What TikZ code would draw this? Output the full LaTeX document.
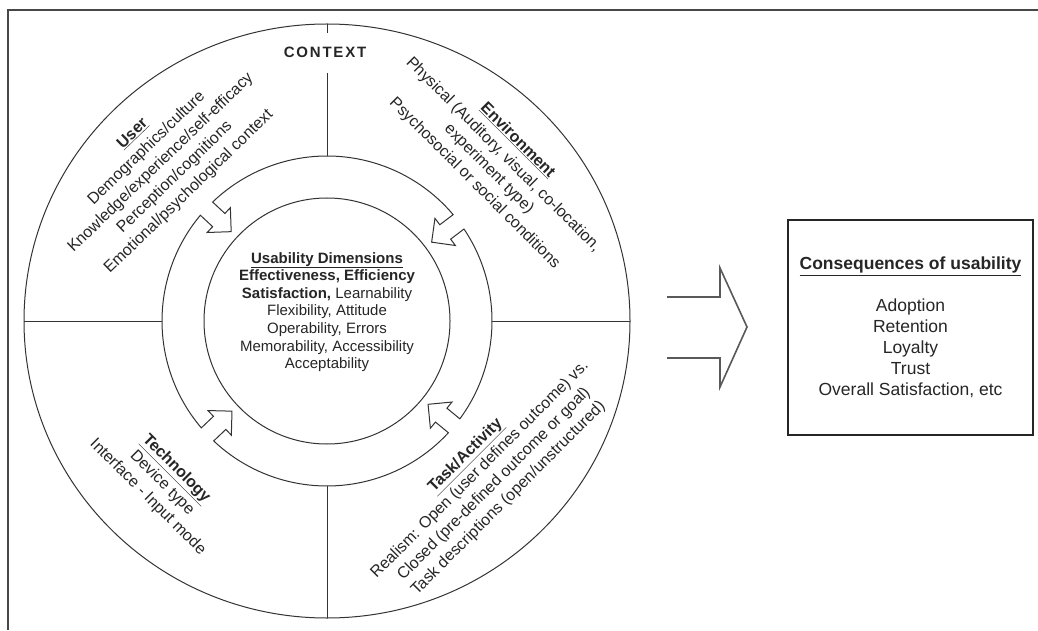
\documentclass[tikz,border=0pt]{standalone}
\usepackage{fontspec}
\setmainfont{Liberation Sans}
\begin{document}
\begin{tikzpicture}[x=1pt,y=1pt,
  ln/.style={draw=black!80, line width=1pt},
  framel/.style={draw=black!72, line width=1.8pt},
  blockarrow/.style={draw=black!65, line width=1.6pt, line join=miter},
  rot/.style={align=center, font=\fontsize{16}{20.2}\selectfont, text=black!85, inner sep=0pt},
  ctr/.style={align=center, font=\fontsize{15}{17.6}\selectfont, text=black!85, inner sep=0pt},
  consbox/.style={draw=black!85, line width=1.2pt, align=center, font=\fontsize{17.5}{21}\selectfont, text=black!85, minimum width=245pt, minimum height=215pt, inner sep=0pt},
  ctxlabel/.style={font=\bfseries\fontsize{15}{18}\selectfont, text=black!85, inner sep=0pt}]
\useasboundingbox (0,0) rectangle (1038,630);
\fill[white] (0,0) rectangle (1038,630);

% frame (partially visible)
\coordinate (fbl) at (8,0);
\coordinate (ftl) at (8,620);
\coordinate (ftr) at (1038,620);
\draw[framel] (fbl) -- (ftl) -- (ftr);

\coordinate (c) at (327,309);
\begin{scope}[shift={(c)}]
  % outer context circle
  \draw[ln] (0,0) ellipse[x radius=303pt, y radius=297pt];
  % inner circle
  \draw[ln] (0,0) circle[radius=123pt];
  % band with inward arrow notches
  \draw[ln, line join=miter]
    (40.13:165) arc[start angle=40.13, end angle=133.87, radius=165pt]
    -- (133.52:148.27) -- (130.45:148.97) -- (137:131) -- (143.55:148.97) -- (140.48:148.27) -- (140.13:165)
    arc[start angle=140.13, end angle=220.37, radius=165pt]
    -- (220.02:148.27) -- (216.95:148.97) -- (223.5:131) -- (230.05:148.97) -- (226.98:148.27) -- (226.63:165)
    arc[start angle=226.63, end angle=317.37, radius=165pt]
    -- (317.02:148.27) -- (313.95:148.97) -- (320.5:131) -- (327.05:148.97) -- (323.98:148.27) -- (323.63:165)
    arc[start angle=323.63, end angle=393.87, radius=165pt]
    -- (393.52:148.27) -- (390.45:148.97) -- (37:131) -- (43.55:148.97) -- (40.48:148.27) -- cycle;
  % dividers
  \coordinate (vt1) at (0,297);
  \coordinate (vt2) at (0,288);
  \coordinate (vt3) at (0,248);
  \coordinate (vt4) at (0,165);
  \coordinate (vb1) at (0,-165);
  \coordinate (vb2) at (0,-297);
  \coordinate (hl1) at (-303,0);
  \coordinate (hl2) at (-165,0);
  \coordinate (hr1) at (165,0);
  \coordinate (hr2) at (303,0);
  \draw[ln] (vt1) -- (vt2);
  \draw[ln] (vt3) -- (vt4);
  \draw[ln] (vb1) -- (vb2);
  \draw[ln] (hl1) -- (hl2);
  \draw[ln] (hr1) -- (hr2);
\end{scope}

\node[ctxlabel] (ctx) at (325,578) {C\kern1.8pt O\kern1.8pt N\kern1.8pt T\kern1.8pt E\kern1.8pt X\kern1.8pt T};

\node[rot, rotate=44] (user) at (161,467) {\underline{\textbf{User}}\\Demographics/culture\\Knowledge/experience/self-efficacy\\Perception/cognitions\\Emotional/psychological context};
\node[rot, rotate=-45] (env) at (496,468) {\underline{\textbf{Environment}}\\Physical (Auditory, visual, co-location,\\experiment type)\\Psychosocial or social conditions};
\node[rot, rotate=-45] (tech) at (162,147) {\underline{\textbf{Technology}}\\Device type\\Interface - Input mode};
\node[rot, rotate=45] (task) at (487,153) {\underline{\textbf{Task/Activity}}\\Realism: Open (user defines outcome) vs.\\Closed (pre-defined outcome or goal)\\Task descriptions (open/unstructured)};

\node[ctr] (usab) at (327,318) {\underline{\textbf{Usability Dimensions}}\\\textbf{Effectiveness, Efficiency}\\\textbf{Satisfaction,} Learnability\\Flexibility, Attitude\\Operability, Errors\\Memorability, Accessibility\\Acceptability};

% big block arrow
\coordinate (ba1) at (667,333);
\coordinate (ba2) at (720,333);
\coordinate (ba3) at (720,362);
\coordinate (ba4) at (747,303);
\coordinate (ba5) at (720,243);
\coordinate (ba6) at (720,272);
\coordinate (ba7) at (667,272);
\draw[blockarrow] (ba1) -- (ba2) -- (ba3) -- (ba4) -- (ba5) -- (ba6) -- (ba7);

\node[consbox] (cons) at (910.5,302.5) {\underline{\textbf{Consequences of usability}}\\[21pt]Adoption\\Retention\\Loyalty\\Trust\\Overall Satisfaction, etc};
\end{tikzpicture}
\end{document}
